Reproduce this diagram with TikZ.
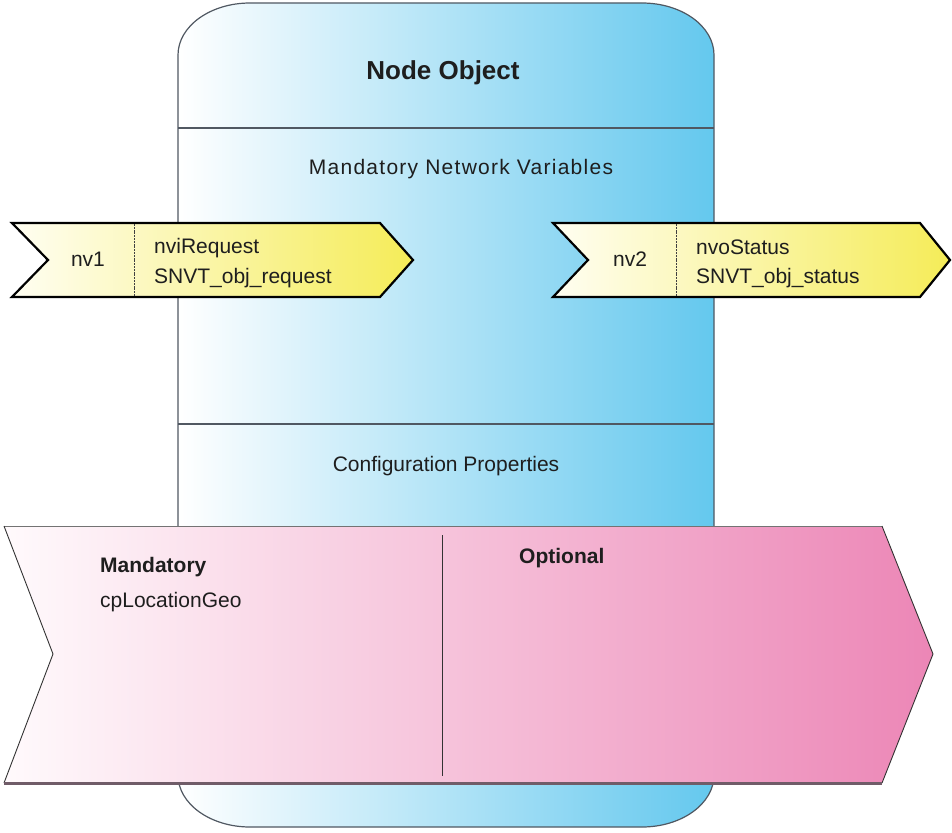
\documentclass[tikz,border=0pt]{standalone}
\usepackage{fontspec}
\setmainfont{Liberation Sans}
\definecolor{blueR}{RGB}{100,200,238}
\definecolor{yelL}{RGB}{255,254,242}
\definecolor{yelR}{RGB}{245,236,88}
\definecolor{pinkL}{RGB}{255,250,252}
\definecolor{pinkR}{RGB}{236,134,182}
\definecolor{edgegray}{RGB}{80,88,98}
\definecolor{pinkedge}{RGB}{112,92,104}
\definecolor{txt}{RGB}{30,30,30}
\tikzset{
  lbl/.style={inner sep=0pt, text=txt, font=\fontsize{21}{25}\selectfont},
  bold lbl/.style={lbl, font=\fontsize{21}{25}\selectfont\bfseries},
  nvbox/.style={left color=yelL, right color=yelR, draw=black, line width=2.2pt, line join=miter},
  sepline/.style={draw=edgegray, line width=1.6pt},
  divider/.style={draw=black!75, line width=0.8pt, dash pattern=on 2pt off 0.8pt},
}
\begin{document}
\begin{tikzpicture}[x=1pt,y=-1pt]
\useasboundingbox (0,0) rectangle (952,832);
% Node object body (rounded with elliptical corners)
\path[left color=white, right color=blueR, draw=edgegray, line width=1.2pt]
  (178,55) .. controls (178,26.3) and (210.2,3) .. (250,3)
  -- (642,3) .. controls (681.8,3) and (714,26.3) .. (714,55)
  -- (714,775) .. controls (714,803.7) and (681.8,827) .. (642,827)
  -- (250,827) .. controls (210.2,827) and (178,803.7) .. (178,775)
  -- cycle;
\coordinate (s1l) at (178,128); \coordinate (s1r) at (714,128);
\coordinate (s2l) at (178,424); \coordinate (s2r) at (714,424);
\draw[sepline] (s1l) -- (s1r);
\draw[sepline] (s2l) -- (s2r);
\node[lbl, anchor=base, font=\fontsize{26}{30}\selectfont\bfseries] (title) at (443,80) {Node Object};
\node[lbl, anchor=base] (mnv) at (461,174) {\addfontfeatures{LetterSpace=6}Mandatory Network Variables};
\node[lbl, anchor=base] (cfg) at (446,471) {Configuration Properties};
% nv1 arrow
\path[nvbox] (12,223) -- (380,223) -- (413,260) -- (380,297) -- (12,297) -- (48,260) -- cycle;
\coordinate (d1t) at (134,224); \coordinate (d1b) at (134,296);
\draw[divider] (d1t) -- (d1b);
\node[lbl, anchor=base] (nv1) at (88,266) {nv1};
\node[lbl, anchor=base west] (nvi) at (154,253) {nviRequest};
\node[lbl, anchor=base west] (nvit) at (154,283) {SNVT\_obj\_request};
% nv2 arrow
\path[nvbox] (553,223) -- (920,223) -- (950,260) -- (920,297) -- (553,297) -- (588,260) -- cycle;
\coordinate (d2t) at (676,224); \coordinate (d2b) at (676,296);
\draw[divider] (d2t) -- (d2b);
\node[lbl, anchor=base] (nv2) at (630,266) {nv2};
\node[lbl, anchor=base west] (nvo) at (696,254) {nvoStatus};
\node[lbl, anchor=base west] (nvot) at (696,283) {SNVT\_obj\_status};
% Configuration properties arrow
\path[left color=pinkL, right color=pinkR] (4,526) -- (882,526) -- (933,654) -- (882,783) -- (4,783) -- (53,654) -- cycle;
\draw[draw=black!55, line width=0.8pt] (4,526) -- (882,526);
\draw[draw=black!80, line width=0.9pt] (882,526) -- (933,654) -- (882,783);
\draw[draw=black!80, line width=0.9pt] (4,526) -- (53,654) -- (4,783);
\draw[draw=pinkedge, line width=3pt] (4,783) -- (882,783);
\coordinate (d3t) at (442,535); \coordinate (d3b) at (442,776);
\draw[draw=black!80, line width=0.9pt] (d3t) -- (d3b);
\node[bold lbl, anchor=base west] (mand) at (100,572) {Mandatory};
\node[lbl, anchor=base west] (cploc) at (100,607) {cpLocationGeo};
\node[bold lbl, anchor=base west] (opt) at (519,563) {Optional};
\end{tikzpicture}
\end{document}
